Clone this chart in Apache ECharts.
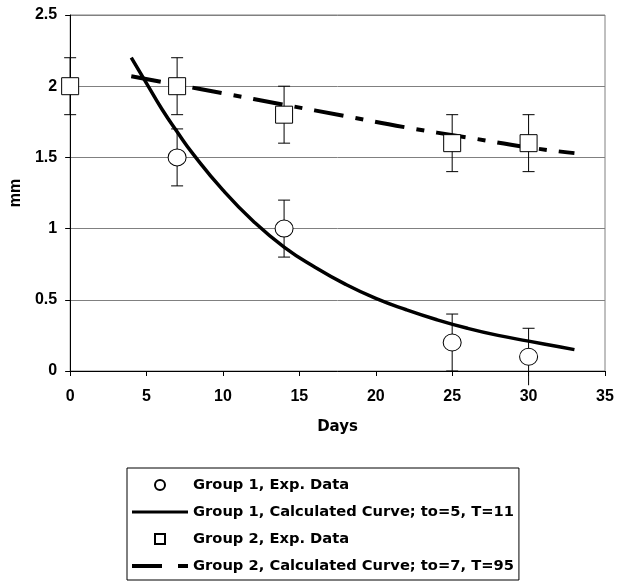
<!DOCTYPE html>
<html>
<head>
<meta charset="utf-8">
<script src="https://cdn.jsdelivr.net/npm/echarts@6/dist/echarts.min.js"></script>
<style>
  html, body { margin: 0; padding: 0; background: #fff; }
  #main { width: 618px; height: 583px; }
</style>
</head>
<body>
<div id="main"></div>
<script>
// 数据
var g1Days = [7, 14, 25, 30];
var g1Vals = [1.5, 1.0, 0.2, 0.1];
var g1Err  = [0.2, 0.2, 0.2, 0.2];

var g2Days = [0, 7, 14, 25, 30];
var g2Vals = [2.0, 2.0, 1.8, 1.6, 1.6];
var g2Err  = [0.2, 0.2, 0.2, 0.2, 0.2];

// calculated curves, points
var curve1X = [4, 5, 6, 7, 8, 10, 12, 14, 16, 18, 20, 22, 24, 26, 28, 30, 32, 33];
var curve1Y = [2.2, 2.02, 1.84, 1.68, 1.53, 1.27, 1.05, 0.87, 0.73, 0.61, 0.51, 0.43, 0.36, 0.30, 0.25, 0.21, 0.17, 0.15];
var curve2X = [4, 7, 10, 14, 18, 22, 26, 30, 33];
var curve2Y = [2.07, 2.01, 1.95, 1.87, 1.79, 1.71, 1.64, 1.57, 1.53];

var xTicks = [0, 35, 5];     // min, max, interval
var yTicks = [0, 2.5, 0.5];

var legendNames = [
  'Group 1, Exp. Data',
  'Group 1, Calculated Curve; to=5, T=11',
  'Group 2, Exp. Data',
  'Group 2, Calculated Curve; to=7, T=95'
];

function pairs(xs, ys){
  var out = [];
  for (var i = 0; i < xs.length; i++) out.push([xs[i], ys[i]]);
  return out;
}
function errData(xs, ys, es){
  var out = [];
  for (var i = 0; i < xs.length; i++) out.push([xs[i], ys[i] - es[i], ys[i] + es[i]]);
  return out;
}

// 误差线
function renderErr(params, api){
  var x = api.value(0);
  var lo = api.coord([x, api.value(1)]);
  var hi = api.coord([x, api.value(2)]);
  var cap = 6;
  var kids = [
    {type: 'line', shape: {x1: hi[0], y1: hi[1], x2: lo[0], y2: lo[1]}, style: {stroke: '#000', lineWidth: 1}},
    {type: 'line', shape: {x1: hi[0] - cap, y1: hi[1], x2: hi[0] + cap, y2: hi[1]}, style: {stroke: '#000', lineWidth: 1}}
  ];
  if (api.value(1) >= 0) {
    kids.push({type: 'line', shape: {x1: lo[0] - cap, y1: lo[1], x2: lo[0] + cap, y2: lo[1]}, style: {stroke: '#000', lineWidth: 1}});
  }
  return {type: 'group', children: kids};
}

var font = 'Liberation Sans, Arial, sans-serif';
var wideFont = 'DejaVu Sans, Liberation Sans, sans-serif';
var myChart = echarts.init(document.getElementById('main'));

var option = {
  animation: false,
  backgroundColor: '#fff',
  textStyle: {fontFamily: font},
  grid: {
    left: 70, right: 13, top: 15, bottom: 212,
    show: true, borderColor: '#808080', borderWidth: 1
  },
  legend: {
    data: [
      {name: legendNames[0], icon: 'circle'},
      {name: legendNames[1], icon: 'path://M0,0h56v3h-56z', itemStyle: {color: '#000', borderWidth: 0}},
      {name: legendNames[2], icon: 'path://M0,0h10v10h-10z'},
      {name: legendNames[3], icon: 'path://M0,0h30v4h-30zM46,0h10v4h-10z', itemStyle: {color: '#000', borderWidth: 0}}
    ],
    orient: 'vertical',
    left: 127, top: 468,
    itemWidth: 56, itemHeight: 10, itemGap: 9,
    padding: [8, 5, 5, 5],
    borderColor: '#000', borderWidth: 1, borderRadius: 0,
    textStyle: {fontFamily: wideFont, fontWeight: 'bold', fontSize: 14.7, lineHeight: 18, color: '#000'},
    selectedMode: false
  },
  xAxis: {
    type: 'value',
    min: xTicks[0], max: xTicks[1], interval: xTicks[2],
    name: 'Days', nameLocation: 'middle', nameGap: 49,
    nameTextStyle: {fontFamily: wideFont, fontWeight: 'bold', fontSize: 15, color: '#000'},
    axisLine: {show: true, onZero: false, lineStyle: {color: '#000', width: 1}},
    axisTick: {show: true, length: 5, lineStyle: {color: '#000'}},
    axisLabel: {margin: 18, color: '#000', fontWeight: 'bold', fontSize: 16, fontFamily: font},
    splitLine: {show: false}
  },
  yAxis: {
    type: 'value',
    min: yTicks[0], max: yTicks[1], interval: yTicks[2],
    name: 'mm', nameLocation: 'middle', nameGap: 45,
    nameTextStyle: {fontFamily: font, fontWeight: 'bold', fontSize: 16, color: '#000'},
    axisLine: {show: true, lineStyle: {color: '#000', width: 1}},
    axisTick: {show: true, length: 5, lineStyle: {color: '#000'}},
    axisLabel: {margin: 13, color: '#000', fontWeight: 'bold', fontSize: 16, fontFamily: font},
    splitLine: {show: true, lineStyle: {color: '#808080', width: 1}}
  },
  series: [
    {
      name: 'err1', type: 'custom', renderItem: renderErr, clip: false, z: 2,
      data: errData(g1Days, g1Vals, g1Err), silent: true
    },
    {
      name: 'err2', type: 'custom', renderItem: renderErr, clip: false, z: 2,
      data: errData(g2Days, g2Vals, g2Err), silent: true
    },
    {
      name: legendNames[1], type: 'line', data: pairs(curve1X, curve1Y),
      symbol: 'none', smooth: true, z: 3,
      lineStyle: {color: '#000', width: 3.5}, itemStyle: {color: '#000'}
    },
    {
      name: legendNames[3], type: 'line', data: pairs(curve2X, curve2Y),
      symbol: 'none', smooth: true, z: 3,
      lineStyle: {color: '#000', width: 4, type: [30, 12, 8, 12]}, itemStyle: {color: '#000'}
    },
    {
      name: legendNames[0], type: 'scatter', data: pairs(g1Days, g1Vals),
      symbol: 'circle', symbolSize: [18, 17], z: 4,
      itemStyle: {color: '#fff', borderColor: '#000', borderWidth: 1, opacity: 1}
    },
    {
      name: legendNames[2], type: 'scatter', data: pairs(g2Days, g2Vals),
      symbol: 'rect', symbolSize: 17, z: 4,
      itemStyle: {color: '#fff', borderColor: '#000', borderWidth: 1, opacity: 1}
    }
  ]
};

myChart.setOption(option);
</script>
</body>
</html>
